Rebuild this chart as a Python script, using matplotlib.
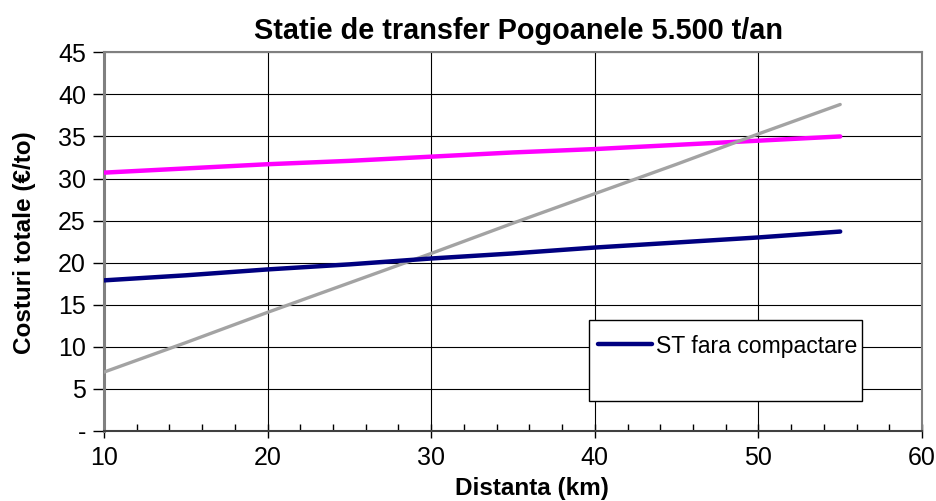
import matplotlib
matplotlib.use("Agg")
import matplotlib.pyplot as plt
from matplotlib.patches import Rectangle
from matplotlib.ticker import MultipleLocator, FixedLocator

plt.rcParams['font.family'] = ['Liberation Sans', 'DejaVu Sans']

distanta = [10, 15, 20, 25, 30, 35, 40, 45, 50, 55]
st_fara_compactare = [17.9, 18.5, 19.2, 19.8, 20.5, 21.1, 21.8, 22.4, 23.0, 23.7]
st_cu_compactare = [30.7, 31.2, 31.7, 32.1, 32.6, 33.1, 33.5, 34.0, 34.5, 35.0]
transport_direct = [7.0, 10.5, 14.1, 17.6, 21.1, 24.7, 28.2, 31.7, 35.3, 38.8]

title = "Statie de transfer Pogoanele 5.500 t/an"
xlabel = "Distanta (km)"
ylabel = "Costuri totale (€/to)"
yticks = [0, 5, 10, 15, 20, 25, 30, 35, 40, 45]
ytick_labels = ["-", "5", "10", "15", "20", "25", "30", "35", "40", "45"]
xticks = [10, 20, 30, 40, 50, 60]

W, H = 937, 501
fig = plt.figure(figsize=(W / 100, H / 100), dpi=100)
ax = fig.add_axes([104 / W, (H - 431) / H, (922 - 104) / W, (431 - 52.3) / H])

ax.plot(distanta, st_cu_compactare, color='#FF00FF', lw=3.2, solid_capstyle='round', zorder=3)
ax.plot(distanta, transport_direct, color='#A3A3A3', lw=2.4, solid_capstyle='round', zorder=3)
l1, = ax.plot(distanta, st_fara_compactare, color='#000080', lw=3.2, solid_capstyle='round', zorder=4,
              label='ST fara compactare')

ax.set_xlim(10, 60)
ax.set_ylim(0, 45)
ax.xaxis.set_major_locator(FixedLocator(xticks))
ax.xaxis.set_minor_locator(MultipleLocator(2))
ax.set_yticks(yticks)
ax.set_yticklabels(ytick_labels)
ax.grid(True, which='major', color='black', lw=0.8)
ax.set_axisbelow(True)

for s in ax.spines.values():
    s.set_color('#808080')
    s.set_linewidth(1.5)
ax.spines['left'].set_linewidth(2.2)
ax.spines['bottom'].set_color('#404040')

ax.tick_params(axis='x', which='major', direction='inout', length=10, width=1, colors='black',
               labelsize=18, pad=6)
ax.tick_params(axis='x', which='minor', direction='in', length=5, width=1, colors='black')
ax.tick_params(axis='y', which='major', direction='out', length=8, width=1, colors='black',
               labelsize=18, pad=5)

fig.text((104 + 922) / 2 / W + 0.006, (H - 31) / H, title, fontsize=20.8, fontweight='bold',
         ha='center', va='center')
fig.text(532 / W, (H - 488) / H, xlabel, fontsize=17.5, fontweight='bold', ha='center', va='center')
fig.text(25 / W, (H - 243) / H, ylabel, fontsize=17.5, fontweight='bold', ha='center', va='center',
         rotation=90)

# legend frame
box = Rectangle((589 / W, (H - 401) / H), (862 - 589) / W, (401 - 320) / H,
                transform=fig.transFigure, facecolor='white', edgecolor='black',
                lw=1.0, zorder=5, clip_on=False)
ax.add_patch(box)
leg = ax.legend([l1], ['ST fara compactare'],
                loc='center left', bbox_to_anchor=(598 / W, (H - 346) / H),
                bbox_transform=fig.transFigure, fontsize=16.6, frameon=False,
                handlelength=2.35, handletextpad=0.17, borderpad=0, borderaxespad=0)
leg.set_zorder(6)

fig.savefig("out.png", dpi=100)
